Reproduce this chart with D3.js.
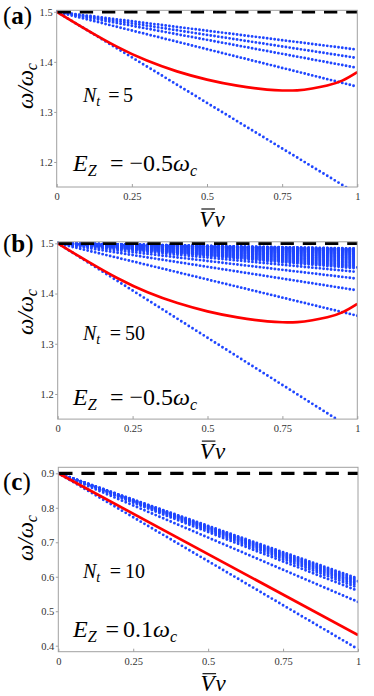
<!DOCTYPE html>
<html><head><meta charset="utf-8">
<script src="https://cdn.jsdelivr.net/npm/d3@7"></script>
<style>html,body{margin:0;padding:0;background:#fff}svg{display:block}
svg text{font-family:"Liberation Serif","Times New Roman",Times,"Noto Serif","DejaVu Serif",serif}</style>
</head><body>
<svg id="chart" width="374" height="696"></svg>
<script>
// ---------- data ----------
const xTickValues = [0, 0.25, 0.5, 0.75, 1];
const xTickLabels = ["0", "0.25", "0.5", "0.75", "1"];
const yTicksAB = [1.2, 1.3, 1.4, 1.5];
const yTicksC = [0.4, 0.5, 0.6, 0.7, 0.8, 0.9];
const yTickLabelsAB = ["1.2", "1.3", "1.4", "1.5"];
const yTickLabelsC = ["0.4", "0.5", "0.6", "0.7", "0.8", "0.9"];

// collective-mode lines: value at Vν=0 and at Vν=1
const modeStartA = 1.5;
const modeEndsA = [1.4244, 1.4077, 1.3880, 1.3505, 1.136];
const modeStartB = 1.5;
const modeEndsB = [1.4895, 1.4890, 1.4884, 1.4878, 1.4871, 1.4864, 1.4856, 1.4848,
  1.4839, 1.4830, 1.4820, 1.4810, 1.4799, 1.4788, 1.4776, 1.4764, 1.4751, 1.4738,
  1.4724, 1.4710, 1.4695, 1.4680, 1.4664, 1.4648, 1.4631, 1.4614, 1.4596, 1.4578,
  1.4559, 1.4540, 1.4520, 1.4500, 1.4430, 1.4296, 1.4063, 1.3558, 1.124];
const modeStartC = 0.9;
const modeEndsC = [0.595, 0.591, 0.587, 0.583, 0.579, 0.574, 0.568, 0.559, 0.527, 0.390];

// red curve
const redX = [0, 0.1, 0.2, 0.3, 0.4, 0.5, 0.6, 0.7, 0.75, 0.8, 0.85, 0.9, 0.95, 1];
const redYAB = [1.5, 1.464, 1.4305, 1.4025, 1.381, 1.3645, 1.3525, 1.3445, 1.3428, 1.3432, 1.3468, 1.3528, 1.3625, 1.3795];
const redXC = [0, 1];
const redYC = [0.9, 0.431];

// dashed reference level
const levelAB = 1.5;
const levelC = 0.9;

const labelsNt = ["5", "50", "10"];
const labelsEz = ["−0.5", "−0.5", "0.1"];
const panelLetters = ["a", "b", "c"];

// ---------- layout ----------
const panels = [
  {left: 56.7, right: 357.3, top: 10.3, bottom: 187, dom: [1.15, 1.503], yt: yTicksAB, ytl: yTickLabelsAB,
   start: modeStartA, ends: modeEndsA, rx: redX, ry: redYAB, level: levelAB,
   letterY: 23.5, ylabY: 86, ntY: 102, ezY: 171, ntW: 50, ezW: 124},
  {left: 57.7, right: 357.3, top: 241.8, bottom: 419.1, dom: [1.15, 1.503], yt: yTicksAB, ytl: yTickLabelsAB,
   start: modeStartB, ends: modeEndsB, rx: redX, ry: redYAB, level: levelAB,
   letterY: 251.5, ylabY: 312, ntY: 340, ezY: 405, ntW: 62, ezW: 124},
  {left: 58.3, right: 358, top: 467.3, bottom: 651.7, dom: [0.3826, 0.9174], yt: yTicksC, ytl: yTickLabelsC,
   start: modeStartC, ends: modeEndsC, rx: redXC, ry: redYC, level: levelC,
   letterY: 490, ylabY: 538, ntY: 578, ezY: 636.5, ntW: 62, ezW: 104}
];

const svg = d3.select("#chart");
const SERIF = '"Liberation Serif","Times New Roman",Times,"Noto Serif","DejaVu Serif",serif';
const BLUE = "#1f46ff";

panels.forEach((p, i) => {
  const x = d3.scaleLinear().domain([0, 1]).range([p.left, p.right]);
  const y = d3.scaleLinear().domain(p.dom).range([p.bottom, p.top]);
  const g = svg.append("g");
  const cid = "clip" + i;
  g.append("clipPath").attr("id", cid).append("rect")
    .attr("x", p.left).attr("y", p.top).attr("width", p.right - p.left).attr("height", p.bottom - p.top);
  const plot = g.append("g").attr("clip-path", `url(#${cid})`);

  // blue dotted modes
  const line = d3.line().x(d => x(d[0])).y(d => y(d[1]));
  p.ends.forEach(e => {
    const pts = [[0, p.start], [1, e]];
    const dx = x(1) - x(0), dy = y(e) - y(p.start);
    const L = Math.sqrt(dx * dx + dy * dy);
    plot.append("path").attr("d", line(pts))
      .attr("fill", "none").attr("stroke", BLUE).attr("stroke-width", 2.9)
      .attr("stroke-linecap", "round").attr("stroke-dasharray", `0 ${L / 80}`);
  });

  // red curve
  const rline = d3.line().x(d => x(d[0])).y(d => y(d[1])).curve(d3.curveNatural);
  plot.append("path").attr("d", rline(p.rx.map((v, k) => [v, p.ry[k]])))
    .attr("fill", "none").attr("stroke", "#ff0000").attr("stroke-width", 2.7);

  // dashed level
  plot.append("path").attr("d", line([[0, p.level], [1, p.level]]))
    .attr("fill", "none").attr("stroke", "#000").attr("stroke-width", 3.2)
    .attr("stroke-dasharray", "13.3 8.9").attr("stroke-dashoffset", -0.9);

  // frame
  g.append("rect").attr("x", p.left).attr("y", p.top).attr("width", p.right - p.left).attr("height", p.bottom - p.top)
    .attr("fill", "none").attr("stroke", "#a0a0a0").attr("stroke-width", 1);

  // x axis ticks (inside)
  const xa = d3.axisBottom(x).tickValues(xTickValues).tickFormat((d, k) => xTickLabels[k]).tickSizeInner(-3).tickSizeOuter(0).tickPadding(5.5);
  const gx = g.append("g").attr("transform", `translate(0,${p.bottom})`).call(xa);
  gx.attr("font-family", null);
  gx.select(".domain").remove();
  gx.selectAll("line").attr("stroke", "#a0a0a0");
  gx.selectAll("text").style("font-family", SERIF).style("font-size", "10.5px").attr("fill", "#333");

  // y axis ticks (outside)
  const ya = d3.axisLeft(y).tickValues(p.yt).tickFormat((d, k) => p.ytl[k]).tickSizeInner(2.5).tickSizeOuter(0).tickPadding(1.5);
  const gy = g.append("g").attr("transform", `translate(${p.left},0)`).call(ya);
  gy.attr("font-family", null);
  gy.select(".domain").remove();
  gy.selectAll("line").attr("stroke", "#a0a0a0");
  gy.selectAll("text").style("font-family", SERIF).style("font-size", "10.5px").attr("fill", "#333");

  // panel letter
  const lt = g.append("text").attr("x", 3).attr("y", p.letterY).style("font-family", SERIF).style("font-size", "25px").attr("fill", "#000");
  lt.append("tspan").text("(");
  lt.append("tspan").attr("font-weight", "bold").text(panelLetters[i]);
  lt.append("tspan").text(")");

  // y label
  const yl = g.append("text").attr("transform", `translate(33,${p.ylabY}) rotate(-90)`)
    .attr("text-anchor", "middle").style("font-family", SERIF).attr("font-style", "italic").style("font-size", "23px").attr("fill", "#000");
  yl.append("tspan").text("ω/ω");
  yl.append("tspan").style("font-size", "16px").attr("dy", 4).text("c");

  // x label
  const xlY = p.bottom + 39.5;
  const xl = g.append("text").attr("x", (p.left + p.right) / 2 + 5).attr("y", xlY).attr("text-anchor", "middle")
    .style("font-family", SERIF).attr("font-style", "italic").style("font-size", "23px").attr("fill", "#000");
  const vt = xl.append("tspan").text("V");
  xl.append("tspan").attr("dx", 1).text("ν");
  const full = xl.node().getBBox();
  const vLen = vt.node().getComputedTextLength();
  const x0 = full.x;
  g.append("line").attr("x1", x0 + 2).attr("x2", x0 + vLen + 1.5).attr("y1", xlY - 17.5).attr("y2", xlY - 17.5)
    .attr("stroke", "#000").attr("stroke-width", 1.1);

  // N_t label
  const nt = g.append("text").attr("x", 83).attr("y", p.ntY).style("font-family", SERIF).style("font-size", "20px").attr("fill", "#000");
  nt.append("tspan").attr("font-style", "italic").text("N");
  nt.append("tspan").attr("font-style", "italic").style("font-size", "14px").attr("dy", 4).text("t");
  const ntEq = nt.append("tspan").attr("dy", -4).text("=");
  const ntNum = nt.append("tspan").text(labelsNt[i]);
  const ntExtra = Math.max(0, p.ntW - nt.node().getComputedTextLength());
  ntEq.attr("dx", ntExtra * 0.7);
  ntNum.attr("dx", ntExtra * 0.3);

  // E_Z label
  const ez = g.append("text").attr("x", 73).attr("y", p.ezY).style("font-family", SERIF).style("font-size", "24px").attr("fill", "#000");
  ez.append("tspan").attr("font-style", "italic").text("E");
  ez.append("tspan").attr("font-style", "italic").style("font-size", "16px").attr("dy", 5).text("Z");
  const ezEq = ez.append("tspan").attr("dy", -5).text("=");
  const ezNum = ez.append("tspan").text(labelsEz[i]);
  ez.append("tspan").attr("font-style", "italic").text("ω");
  ez.append("tspan").attr("font-style", "italic").style("font-size", "16px").attr("dy", 5).text("c");
  const ezExtra = Math.max(0, p.ezW - ez.node().getComputedTextLength());
  ezEq.attr("dx", ezExtra * 0.7);
  ezNum.attr("dx", ezExtra * 0.3);
});
</script>
</body></html>
